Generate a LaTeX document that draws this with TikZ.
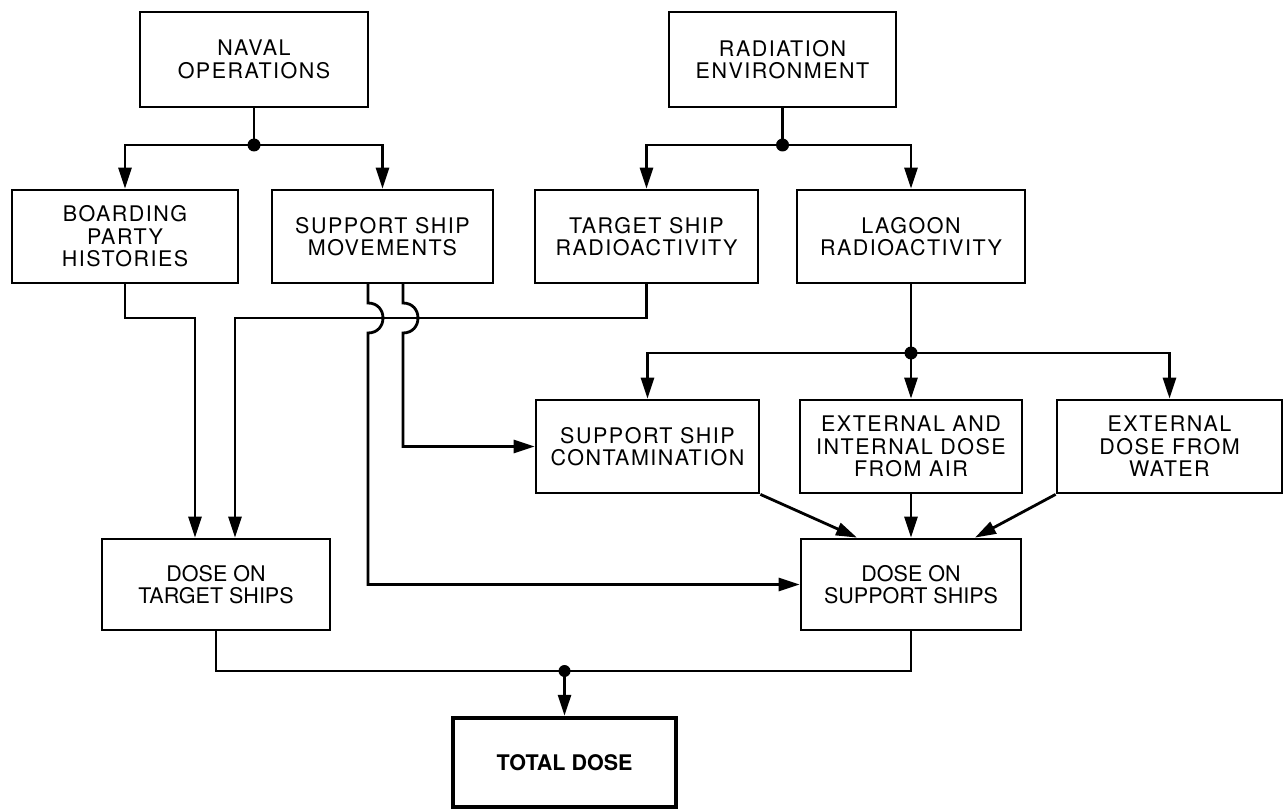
\documentclass[tikz,border=0pt]{standalone}
\usepackage{fontspec}
\setmainfont{TeX Gyre Heros}
\newfontfamily\spaced[LetterSpace=7]{TeX Gyre Heros}
\usetikzlibrary{arrows.meta}
\begin{document}
\begin{tikzpicture}[x=1pt,y=-1pt,
  blk/.style={draw,line width=2.8pt,minimum width=#1,minimum height=93pt,inner sep=0pt,align=center,
    font=\spaced\fontsize{21.5}{22.5}\selectfont},
  doseblk/.style={draw,line width=2.8pt,minimum width=#1,minimum height=91pt,inner sep=0pt,align=center,
    font=\fontsize{21.5}{22.5}\selectfont},
  conn/.style={line width=2.8pt},
  arr/.style={line width=2.8pt,-{Triangle[length=21pt,width=13pt]}},
  dot/.style={fill=black}
]
\useasboundingbox (0,0) rectangle (1285,810);
% top row
\node[blk=228pt,minimum height=95pt] (naval) at (254,59.5) {NAVAL\\OPERATIONS};
\node[blk=227pt,minimum height=95pt] (rad) at (782.5,59.5) {RADIATION\\ENVIRONMENT};
% second row
\node[blk=226pt] (board) at (125,236.5) {BOARDING\\PARTY\\HISTORIES};
\node[blk=221pt] (ssm) at (382.5,236.5) {SUPPORT SHIP\\MOVEMENTS};
\node[blk=223pt] (tsr) at (646.5,236.5) {TARGET SHIP\\RADIOACTIVITY};
\node[blk=228pt] (lag) at (911,236.5) {LAGOON\\RADIOACTIVITY};
% third row
\node[blk=223pt] (ssc) at (647.5,446.5) {SUPPORT SHIP\\CONTAMINATION};
\node[blk=222pt] (air) at (911,446.5) {EXTERNAL AND\\INTERNAL DOSE\\FROM AIR};
\node[blk=225pt] (water) at (1169.5,446.5) {EXTERNAL\\DOSE FROM\\WATER};
% dose row
\node[doseblk=228pt] (dtarget) at (216,584.5) {DOSE ON\\TARGET SHIPS};
\node[doseblk=220pt] (dsupport) at (911,584.5) {DOSE ON\\SUPPORT SHIPS};
% total
\node[draw,line width=4.5pt,minimum width=223pt,minimum height=89pt,inner sep=0pt,
  font=\bfseries\fontsize{21.5}{22.5}\selectfont] (total) at (564.5,762.5) {TOTAL DOSE};

% junctions
\coordinate (j1) at (254,145);
\coordinate (j2) at (782.5,145);
\coordinate (j3) at (911,353);
\coordinate (j4) at (564.5,671);

% naval operations
\draw[conn] (naval.south) -- (j1);
\draw[arr] (j1) -| (board.north);
\draw[arr] (j1) -| (ssm.north);
% radiation environment
\draw[conn] (rad.south) -- (j2);
\draw[arr] (j2) -| (tsr.north);
\draw[arr] (j2) -| (lag.north);

% boarding -> dose on target ships
\coordinate (b1) at (195,318);
\draw[arr] (board.south) |- (b1) -- (b1 |- dtarget.north);
% target ship radioactivity -> dose on target ships
\coordinate (t1) at (235,318);
\draw[arr] (tsr.south) |- (t1) -- (t1 |- dtarget.north);

% support ship movements -> hops
\coordinate (s1) at (368,283);
\coordinate (s2) at (403,283);
\draw[arr] (s1) -- (368,303) .. controls (388,303) and (388,333) .. (368,333)
  -- (s1 |- dsupport.west) -- (dsupport.west);
\draw[arr] (s2) -- (403,303) .. controls (423,303) and (423,333) .. (403,333)
  -- (s2 |- ssc.west) -- (ssc.west);

% lagoon
\draw[conn] (lag.south) -- (j3);
\draw[arr] (j3) -| (ssc.north);
\draw[arr] (j3) -- (air.north);
\draw[arr] (j3) -| (water.north);

% into dose on support ships
\draw[arr] (ssc.south east) -- ([xshift=-54pt]dsupport.north);
\draw[arr] (air.south) -- (dsupport.north);
\draw[arr] (water.south west) -- ([xshift=64pt]dsupport.north);

% to total dose
\draw[conn] (dtarget.south) |- (j4);
\draw[conn] (dsupport.south) |- (j4);
\draw[arr] (j4) -- (total.north);

% dots
\fill[dot] (j1) circle (6.5pt);
\fill[dot] (j2) circle (6.5pt);
\fill[dot] (j3) circle (6.5pt);
\fill[dot] (j4) circle (6pt);
\end{tikzpicture}
\end{document}
